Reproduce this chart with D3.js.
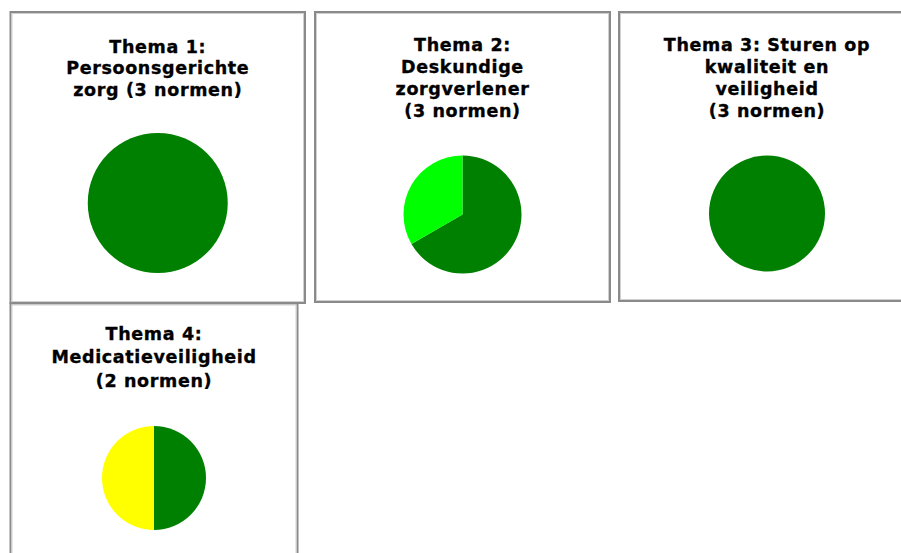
<!DOCTYPE html>
<html lang="nl">
<head>
<meta charset="UTF-8">
<title>Thema's</title>
<script src="https://cdn.jsdelivr.net/npm/d3@7"></script>
<style>
  body { margin: 0; background: #fff; }
  text { font-family: Verdana, "DejaVu Sans", sans-serif; font-weight: bold; }
</style>
</head>
<body>
<script>
var width = 901,
    height = 553;

// per thema: titelregels, aantallen per oordeel en de kleur van elk oordeel
var titles = [
    ["Thema 1:", "Persoonsgerichte", "zorg (3 normen)"],
    ["Thema 2:", "Deskundige", "zorgverlener", "(3 normen)"],
    ["Thema 3: Sturen op", "kwaliteit en", "veiligheid", "(3 normen)"],
    ["Thema 4:", "Medicatieveiligheid", "(2 normen)"]
];
var values = [
    [3],
    [2, 1],
    [3],
    [1, 1]
];
var colors = [
    ["#008000"],
    ["#008000", "#00ff00"],
    ["#008000"],
    ["#008000", "#ffff00"]
];

// kaders van de vier panelen (links, boven, rechts, onder) + straal en hoogte van de cirkel
var panels = [
    {x0: 9.5, y0: 11, x1: 306, y1: 304, r: 70, cy: 203, ty: 52.5, lh: 21.5},
    {x0: 314, y0: 11, x1: 611, y1: 303, r: 59, cy: 214.5, ty: 51, lh: 22},
    {x0: 618, y0: 11, x1: 916, y1: 302, r: 58, cy: 213.5, ty: 51, lh: 22},
    {x0: 9.5, y0: 302.5, x1: 298.5, y1: 570, r: 52, cy: 478, ty: 339.5, lh: 23.5}
];

var svg = d3.select("body").append("svg")
    .attr("width", width)
    .attr("height", height);

var pie = d3.pie().sort(null);

panels.forEach(function(p, i) {
    var g = svg.append("g");
    var cx = (p.x0 + p.x1) / 2;

    // kader: donkere rand met lichte binnenlijn
    g.append("rect")
        .attr("x", p.x0 + 1).attr("y", p.y0 + 1)
        .attr("width", p.x1 - p.x0 - 2).attr("height", p.y1 - p.y0 - 2)
        .attr("fill", "#fff")
        .attr("stroke", "#8a8a8a")
        .attr("stroke-width", 2);
    g.append("rect")
        .attr("x", p.x0 + 2.5).attr("y", p.y0 + 2.5)
        .attr("width", p.x1 - p.x0 - 5).attr("height", p.y1 - p.y0 - 5)
        .attr("fill", "none")
        .attr("stroke", "#d0d0d0")
        .attr("stroke-width", 1);

    g.selectAll("text.title")
        .data(titles[i])
        .enter()
        .append("text")
        .attr("class", "title")
        .attr("x", cx)
        .attr("y", function(d, j) { return p.ty + j * p.lh; })
        .attr("text-anchor", "middle")
        .attr("font-size", "17.5px")
        .attr("letter-spacing", "0.65px")
        .attr("fill", "#000")
        .attr("stroke", "#000")
        .attr("stroke-width", 0.35)
        .text(function(d) { return d; });

    var arc = d3.arc().innerRadius(0).outerRadius(p.r);

    g.append("g")
        .attr("transform", "translate(" + cx + "," + p.cy + ")")
        .selectAll("path")
        .data(pie(values[i]))
        .enter()
        .append("path")
        .attr("fill", function(d, j) { return colors[i][j]; })
        .attr("d", arc);
});
</script>
</body>
</html>
